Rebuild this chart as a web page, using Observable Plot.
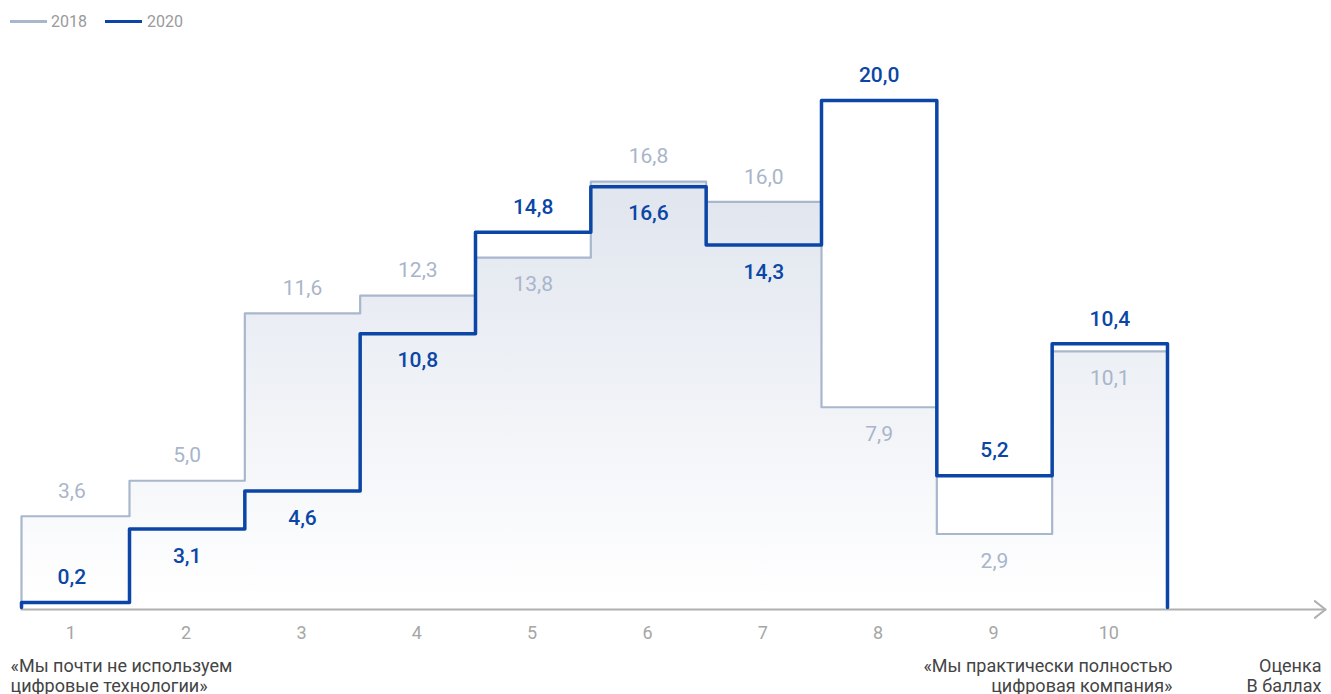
<!DOCTYPE html>
<html><head><meta charset="utf-8">
<script src="https://cdn.jsdelivr.net/npm/d3@7"></script>
<script src="https://cdn.jsdelivr.net/npm/@observablehq/plot@0.6"></script>
<style>
body{margin:0;background:#fff;font-family:Roboto,sans-serif;}
#legend{position:relative;height:44px;font-family:Roboto,sans-serif;font-size:16px;color:#9a9a9a;}
#legend .sw{position:absolute;top:20px;width:37px;height:3px;}
#legend .lb{position:absolute;top:12px;line-height:19px;}
</style></head><body>
<div id="legend"></div>
<div id="chart"></div>
<script>
const scores = [1, 2, 3, 4, 5, 6, 7, 8, 9, 10];
const values2018 = [3.6, 5.0, 11.6, 12.3, 13.8, 16.8, 16.0, 7.9, 2.9, 10.1];
const values2020 = [0.2, 3.1, 4.6, 10.8, 14.8, 16.6, 14.3, 20.0, 5.2, 10.4];
const seriesNames = ["2018", "2020"];
const noteLow = "«Мы почти не используем\nцифровые технологии»";
const noteHigh = "«Мы практически полностью\nцифровая компания»";
const axisNote = "Оценка\nВ баллах";

const c2018 = "#a9b7cd", c2020 = "#0b46a6";
const t2018 = "#a9b5ca";

// legend
const lg = document.getElementById("legend");
[[seriesNames[0], c2018, 10, 51], [seriesNames[1], c2020, 105, 147]].forEach(([n, c, sx, tx]) => {
  const s = document.createElement("span"); s.className = "sw"; s.style.left = sx + "px"; s.style.background = c; lg.appendChild(s);
  const t = document.createElement("span"); t.className = "lb"; t.style.left = tx + "px"; t.textContent = n; lg.appendChild(t);
});

function steps(vals) {
  const last = scores.length - 1;
  const pts = [{x: scores[0] - 0.5, y: 0}];
  scores.forEach((s, i) => pts.push({x: s - 0.5, y: vals[i]}));
  pts.push({x: scores[last] + 0.5, y: vals[last]});
  pts.push({x: scores[last] + 0.5, y: 0});
  return pts;
}
const fmt = v => d3.format(".1f")(v).replace(".", ",");
const labels = scores.flatMap((s, i) => {
  const a = values2018[i], b = values2020[i];
  return [
    {x: s, y: a, text: fmt(a), series: "2018", up: a > b},
    {x: s, y: b, text: fmt(b), series: "2020", up: b > a || b < 1}
  ];
});

const xLo = 0.5636, xHi = 11.87;

const defs = () => {
  const d = d3.create("svg:defs");
  const g = d.append("linearGradient").attr("id", "fill2018").attr("x1", 0).attr("y1", 0).attr("x2", 0).attr("y2", 1);
  g.append("stop").attr("offset", "0%").attr("stop-color", "#e0e5ee");
  g.append("stop").attr("offset", "100%").attr("stop-color", "#ffffff");
  return d.node();
};

const chart = Plot.plot({
  width: 1331, height: 650,
  marginLeft: 21, marginRight: 6, marginTop: 56, marginBottom: 87,
  x: {domain: [xLo, xHi], clamp: true, axis: null},
  y: {domain: [0, 20], axis: null},
  style: {fontFamily: "Roboto, sans-serif", background: "transparent", overflow: "visible"},
  marks: [
    defs,
    Plot.areaY(steps(values2018), {x: "x", y: "y", curve: "step-after", fill: "url(#fill2018)"}),
    Plot.line([{x: xLo, y: 0}, {x: xHi, y: 0}], {x: "x", y: "y", stroke: "#b0b0b0", strokeWidth: 2, dy: 2, markerEnd: "arrow"}),
    Plot.line(steps(values2018), {x: "x", y: "y", curve: "step-after", stroke: c2018, strokeWidth: 2.2}),
    Plot.line(steps(values2020), {x: "x", y: "y", curve: "step-after", stroke: c2020, strokeWidth: 3.5}),
    Plot.text(scores, {x: d => d, y: 0, text: d => String(d), dx: -1, dy: 26, fill: "#a6a6a6", fontSize: 18, lineAnchor: "middle"}),
    Plot.text(labels, {filter: d => d.series === "2018" && d.up, x: "x", y: "y", text: "text", dy: -25, fill: t2018, fontSize: 21, lineAnchor: "middle"}),
    Plot.text(labels, {filter: d => d.series === "2018" && !d.up, x: "x", y: "y", text: "text", dy: 27, fill: t2018, fontSize: 21, lineAnchor: "middle"}),
    Plot.text(labels, {filter: d => d.series === "2020" && d.up, x: "x", y: "y", text: "text", dy: -25, fill: c2020, fontSize: 21, fontWeight: 500, lineAnchor: "middle"}),
    Plot.text(labels, {filter: d => d.series === "2020" && !d.up, x: "x", y: "y", text: "text", dy: 27, fill: c2020, fontSize: 21, fontWeight: 500, lineAnchor: "middle"}),
    Plot.text([noteLow], {frameAnchor: "bottom-left", text: d => d, textAnchor: "start", lineAnchor: "middle", dx: -11, dy: 68, fontSize: 18, lineHeight: 1.11, fill: "#444"}),
    Plot.text([noteHigh], {frameAnchor: "bottom-right", text: d => d, textAnchor: "end", lineAnchor: "middle", dx: -153, dy: 68, fontSize: 18, lineHeight: 1.11, fill: "#444"}),
    Plot.text([axisNote], {frameAnchor: "bottom-right", text: d => d, textAnchor: "end", lineAnchor: "middle", dx: -4, dy: 68, fontSize: 18, lineHeight: 1.11, fill: "#444"})
  ]
});
document.getElementById("chart").appendChild(chart);
chart.querySelectorAll("marker").forEach(m => {
  m.setAttribute("viewBox", "-10 -10 20 20");
  m.setAttribute("markerWidth", 13.33);
  m.setAttribute("markerHeight", 13.33);
  m.setAttribute("overflow", "visible");
  const p = m.querySelector("path");
  if (p) p.setAttribute("d", "M-8,-6.3L0,0L-8,6.3");
});
</script>
</body></html>
